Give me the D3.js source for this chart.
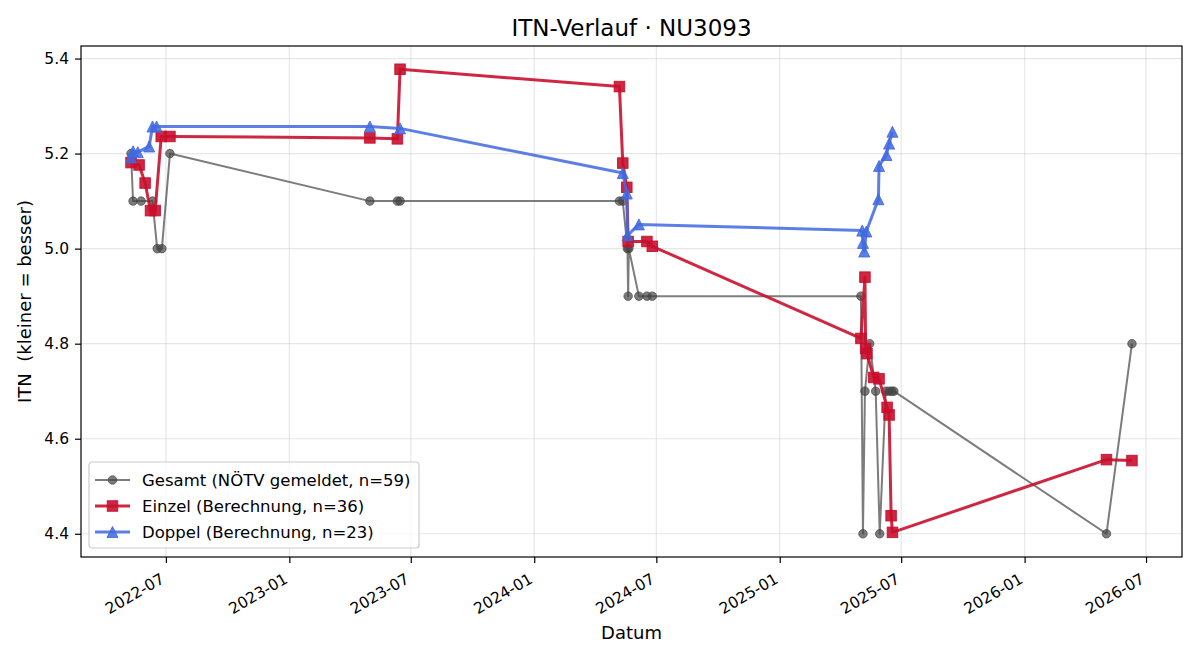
<!DOCTYPE html>
<html>
<head>
<meta charset="utf-8">
<script src="https://cdn.jsdelivr.net/npm/d3@7"></script>
<style>
  html, body { margin: 0; padding: 0; background: #fff; }
  #chart { width: 1200px; height: 660px; }
  text { font-family: "DejaVu Sans", sans-serif; fill: #000; }
</style>
</head>
<body>
<div id="chart"></div>
<script>
// Gesamt (NÖTV gemeldet)
var gesamtDates = ['2022-05-10', '2022-05-13', '2022-05-25', '2022-06-11', '2022-06-18', '2022-06-25', '2022-07-07',
  '2023-05-01', '2023-06-11', '2023-06-15',
  '2024-05-07', '2024-05-12', '2024-05-19', '2024-05-20', '2024-05-21', '2024-06-05', '2024-06-17', '2024-06-25',
  '2025-05-02', '2025-05-05', '2025-05-08', '2025-05-15', '2025-05-24', '2025-05-30', '2025-06-08', '2025-06-13', '2025-06-17', '2025-06-20',
  '2026-05-03', '2026-06-10'];
var gesamtValues = [5.2, 5.1, 5.1, 5.1, 5.0, 5.0, 5.2,
  5.1, 5.1, 5.1,
  5.1, 5.1, 5.0, 4.9, 5.0, 4.9, 4.9, 4.9,
  4.9, 4.4, 4.7, 4.8, 4.7, 4.4, 4.7, 4.7, 4.7, 4.7,
  4.4, 4.8];

// Einzel (Berechnung)
var einzelDates = ['2022-05-10', '2022-05-22', '2022-05-31', '2022-06-08', '2022-06-15', '2022-06-24', '2022-07-07',
  '2023-05-01', '2023-06-11', '2023-06-15',
  '2024-05-07', '2024-05-12', '2024-05-18', '2024-05-20', '2024-06-17', '2024-06-25',
  '2025-05-02', '2025-05-08', '2025-05-09', '2025-05-11', '2025-05-21', '2025-05-29', '2025-06-10', '2025-06-13', '2025-06-16', '2025-06-18',
  '2026-05-03', '2026-06-10'];
var einzelValues = [5.181, 5.176, 5.138, 5.080, 5.080, 5.236, 5.236,
  5.233, 5.231, 5.3775,
  5.341, 5.180, 5.129, 5.015, 5.015, 5.005,
  4.811, 4.940, 4.790, 4.779, 4.729, 4.726, 4.666, 4.650, 4.438, 4.403,
  4.556, 4.554];

// Doppel (Berechnung)
var doppelDates = ['2022-05-10', '2022-05-13', '2022-05-20', '2022-06-06', '2022-06-11', '2022-06-17',
  '2023-05-01', '2023-06-15',
  '2024-05-12', '2024-05-18', '2024-05-19', '2024-06-05',
  '2025-05-04', '2025-05-05', '2025-05-07', '2025-05-10', '2025-05-28', '2025-05-29', '2025-06-09', '2025-06-13', '2025-06-18'];
var doppelValues = [5.192, 5.205, 5.203, 5.215, 5.257, 5.257,
  5.257, 5.253,
  5.159, 5.116, 5.028, 5.051,
  5.038, 5.012, 4.994, 5.036, 5.104, 5.174, 5.197, 5.221, 5.246];

var seriesLabels = ['Gesamt (NÖTV gemeldet, n=59)', 'Einzel (Berechnung, n=36)', 'Doppel (Berechnung, n=23)'];
var yTicks = [4.4, 4.6, 4.8, 5.0, 5.2, 5.4];

var parseDate = d3.timeParse('%Y-%m-%d');

function toPoints(dates, values) {
  return dates.map(function (d, i) { return { date: parseDate(d), value: values[i] }; });
}

var series = [
  { name: seriesLabels[0], data: toPoints(gesamtDates, gesamtValues), color: '#444444', alpha: 0.7, width: 2, marker: 'circle' },
  { name: seriesLabels[1], data: toPoints(einzelDates, einzelValues), color: '#c8102e', alpha: 0.9, width: 3, marker: 'square' },
  { name: seriesLabels[2], data: toPoints(doppelDates, doppelValues), color: '#4169e1', alpha: 0.85, width: 3, marker: 'triangle' }
];

var W = 1200, H = 660;
var margin = { top: 46, right: 18, bottom: 103, left: 81 };
var width = W - margin.left - margin.right;
var height = H - margin.top - margin.bottom;

var svg = d3.select('#chart').append('svg').attr('width', W).attr('height', H);

// matplotlib-like 5% padding
var allPts = d3.merge(series.map(function (s) { return s.data; }));
var xExt = d3.extent(allPts, function (d) { return d.date; });
var xPad = (xExt[1] - xExt[0]) * 0.05;
var yExt = d3.extent(allPts, function (d) { return d.value; });
var yPad = (yExt[1] - yExt[0]) * 0.05;

var x = d3.scaleTime()
  .domain([new Date(+xExt[0] - xPad), new Date(+xExt[1] + xPad)])
  .range([0, width]);
var y = d3.scaleLinear()
  .domain([yExt[0] - yPad, yExt[1] + yPad])
  .range([height, 0]);

var g = svg.append('g').attr('transform', 'translate(' + margin.left + ',' + margin.top + ')');

var xTicks = x.ticks(d3.timeMonth.every(6));

// grid
g.append('g').selectAll('line.gx').data(xTicks).enter().append('line')
  .attr('x1', function (d) { return x(d); }).attr('x2', function (d) { return x(d); })
  .attr('y1', 0).attr('y2', height)
  .attr('stroke', '#b0b0b0').attr('stroke-opacity', 0.3).attr('stroke-width', 1.2);
g.append('g').selectAll('line.gy').data(yTicks).enter().append('line')
  .attr('x1', 0).attr('x2', width)
  .attr('y1', function (d) { return y(d); }).attr('y2', function (d) { return y(d); })
  .attr('stroke', '#b0b0b0').attr('stroke-opacity', 0.3).attr('stroke-width', 1.2);

// axes
var xAxis = g.append('g').attr('transform', 'translate(0,' + height + ')')
  .call(d3.axisBottom(x).tickValues(xTicks).tickFormat(d3.timeFormat('%Y-%m')).tickSize(6).tickSizeOuter(0));
xAxis.select('.domain').remove();
xAxis.selectAll('line').attr('stroke', '#000').attr('stroke-width', 1.2);
xAxis.selectAll('text')
  .attr('x', 0).attr('y', 0).attr('dy', 0)
  .attr('text-anchor', 'end')
  .attr('transform', 'translate(-1,25) rotate(-30)')
  .style('font-size', '15.5px');

var yAxis = g.append('g')
  .call(d3.axisLeft(y).tickValues(yTicks).tickFormat(d3.format('.1f')).tickSize(6).tickPadding(6).tickSizeOuter(0));
yAxis.select('.domain').remove();
yAxis.selectAll('line').attr('stroke', '#000').attr('stroke-width', 1.2);
yAxis.selectAll('text').style('font-size', '15.5px');

// lines + markers
var line = d3.line()
  .x(function (d) { return x(d.date); })
  .y(function (d) { return y(d.value); });

function drawMarker(sel, type, size) {
  if (type === 'circle') {
    return sel.append('circle').attr('r', size / 2);
  }
  if (type === 'square') {
    return sel.append('rect').attr('x', -size / 2).attr('y', -size / 2).attr('width', size).attr('height', size);
  }
  return sel.append('path')
    .attr('d', 'M0,' + (-size / 2) + 'L' + (-size / 2) + ',' + (size / 2) + 'L' + (size / 2) + ',' + (size / 2) + 'Z');
}

var markerSize = { circle: 8.5, square: 10.5, triangle: 11 };

series.forEach(function (s) {
  g.append('path').datum(s.data)
    .attr('d', line)
    .attr('fill', 'none')
    .attr('stroke', s.color)
    .attr('stroke-opacity', s.alpha)
    .attr('stroke-width', s.width)
    .attr('stroke-linejoin', 'round');

  var pts = g.append('g').selectAll('g').data(s.data).enter().append('g')
    .attr('transform', function (d) { return 'translate(' + x(d.date) + ',' + y(d.value) + ')'; });
  drawMarker(pts, s.marker, markerSize[s.marker])
    .attr('fill', s.color)
    .attr('fill-opacity', s.alpha)
    .attr('stroke', s.color)
    .attr('stroke-opacity', s.alpha)
    .attr('stroke-width', 1);
});

// frame
g.append('rect').attr('x', 0).attr('y', 0).attr('width', width).attr('height', height)
  .attr('fill', 'none').attr('stroke', '#000').attr('stroke-width', 1.2);

// legend
var legend = g.append('g').attr('transform', 'translate(8,' + (height - 95) + ')');
legend.append('rect')
  .attr('x', 0).attr('y', 0).attr('width', 330).attr('height', 86).attr('rx', 3)
  .attr('fill', '#fff').attr('fill-opacity', 0.8)
  .attr('stroke', '#cccccc').attr('stroke-width', 1.2);
series.forEach(function (s, i) {
  var row = legend.append('g').attr('transform', 'translate(0,' + (18 + i * 26) + ')');
  row.append('line').attr('x1', 6).attr('x2', 41).attr('y1', 0).attr('y2', 0)
    .attr('stroke', s.color).attr('stroke-opacity', s.alpha).attr('stroke-width', s.width);
  var m = row.append('g').attr('transform', 'translate(23.5,0)');
  drawMarker(m, s.marker, markerSize[s.marker])
    .attr('fill', s.color).attr('fill-opacity', s.alpha)
    .attr('stroke', s.color).attr('stroke-opacity', s.alpha).attr('stroke-width', 1);
  row.append('text').attr('x', 53).attr('y', 0).attr('dy', '0.36em')
    .style('font-size', '16.5px').text(s.name);
});

// titles
svg.append('text')
  .attr('x', margin.left + width / 2).attr('y', 36)
  .attr('text-anchor', 'middle').style('font-size', '23px')
  .text('ITN-Verlauf · NU3093');

svg.append('text')
  .attr('x', margin.left + width / 2).attr('y', 639)
  .attr('text-anchor', 'middle').style('font-size', '18px')
  .text('Datum');

svg.append('text')
  .attr('transform', 'translate(31,' + (margin.top + height / 2) + ') rotate(-90)')
  .attr('text-anchor', 'middle').style('font-size', '18px')
  .style('white-space', 'pre')
  .text('ITN  (kleiner = besser)');
</script>
</body>
</html>
